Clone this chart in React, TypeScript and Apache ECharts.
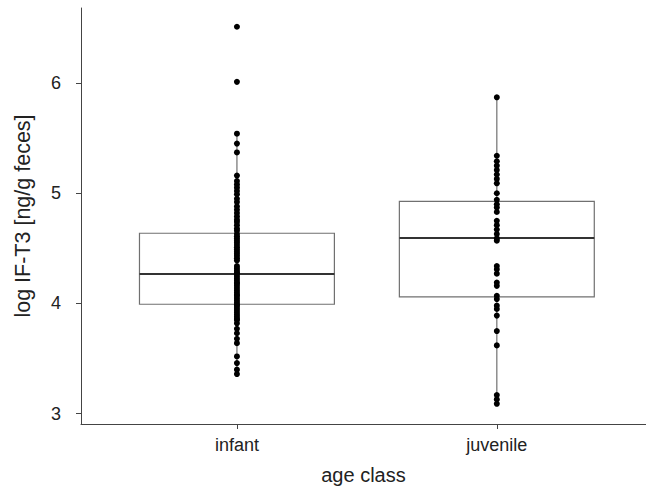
import React, { useEffect, useRef } from "react";
import * as echarts from "echarts";

const categories = ["infant", "juvenile"];
const yTicks = [3, 4, 5, 6];

// box statistics: [whiskerLow, Q1, median, Q3, whiskerHigh]
const infantBox = [3.35, 3.993, 4.267, 4.637, 5.54];
const juvenileBox = [3.08, 4.06, 4.595, 4.926, 5.87];

const infantPoints = [
  6.51, 6.01, 5.54, 5.45, 5.37, 5.16, 5.11, 5.08, 5.05, 5.02, 4.99, 4.95, 4.92,
  4.88, 4.85, 4.82, 4.79, 4.76, 4.74, 4.71, 4.68, 4.66, 4.63, 4.61, 4.59, 4.57,
  4.55, 4.53, 4.51, 4.49, 4.47, 4.45, 4.43, 4.41, 4.39, 4.34, 4.32, 4.3, 4.28,
  4.27, 4.25, 4.23, 4.21, 4.19, 4.18, 4.16, 4.14, 4.12, 4.1, 4.08, 4.07, 4.05,
  4.03, 4.01, 3.99, 3.98, 3.96, 3.94, 3.92, 3.9, 3.88, 3.86, 3.85, 3.82, 3.77,
  3.73, 3.68, 3.64, 3.52, 3.46, 3.4, 3.36,
];

const juvenilePoints = [
  5.87, 5.34, 5.29, 5.25, 5.21, 5.17, 5.13, 5.09, 5.0, 4.94, 4.9, 4.87, 4.83,
  4.75, 4.71, 4.67, 4.63, 4.59, 4.57, 4.34, 4.31, 4.27, 4.19, 4.16, 4.07, 4.04,
  3.98, 3.95, 3.89, 3.75, 3.62, 3.17, 3.13, 3.09,
];

export default function App() {
  const ref = useRef<HTMLDivElement>(null);
  useEffect(() => {
    if (!ref.current) return;
    const chart = echarts.init(ref.current, null, { renderer: "svg" });
    const boxes = [
      [1, ...infantBox],
      [2, ...juvenileBox],
    ];
    const font = "Liberation Sans, Arial, sans-serif";
    chart.setOption({
      animation: false,
      backgroundColor: "#ffffff",
      grid: { left: 81, right: 0, top: 8, bottom: 64 },
      xAxis: {
        type: "value",
        min: 0.4,
        max: 2.574,
        name: "age class",
        nameLocation: "middle",
        nameGap: 41,
        nameTextStyle: { fontFamily: font, fontSize: 20, color: "#222" },
        splitLine: { show: false },
        axisLine: { lineStyle: { color: "#444", width: 1 } },
        axisTick: { customValues: [1, 2], length: 5, lineStyle: { color: "#444" } },
        axisLabel: {
          customValues: [1, 2],
          formatter: (v: number) => categories[Math.round(v) - 1] ?? "",
          fontFamily: font,
          fontSize: 18,
          color: "#222",
          margin: 12,
        },
      },
      yAxis: {
        type: "value",
        min: 2.907,
        max: 6.68,
        name: "log IF-T3 [ng/g feces]",
        nameLocation: "middle",
        nameGap: 47,
        nameTextStyle: { fontFamily: font, fontSize: 21.5, color: "#222" },
        splitLine: { show: false },
        axisLine: { show: true, lineStyle: { color: "#444", width: 1 } },
        axisTick: { show: true, customValues: yTicks, length: 5, lineStyle: { color: "#444" } },
        axisLabel: {
          customValues: yTicks,
          formatter: (v: number) => String(Math.round(v)),
          fontFamily: font,
          fontSize: 18,
          color: "#222",
          margin: 20,
        },
      },
      series: [
        {
          type: "custom",
          data: boxes,
          z: 1,
          renderItem: (params: any, api: any) => {
            const x = api.value(0);
            const lo = api.coord([x, api.value(1)]);
            const q1 = api.coord([x, api.value(2)]);
            const med = api.coord([x, api.value(3)]);
            const q3 = api.coord([x, api.value(4)]);
            const hi = api.coord([x, api.value(5)]);
            const w = api.size([0.75, 0])[0];
            const gray = { stroke: "#707070", lineWidth: 1.2 };
            return {
              type: "group",
              children: [
                { type: "line", shape: { x1: lo[0], y1: lo[1], x2: q1[0], y2: q1[1] }, style: gray },
                { type: "line", shape: { x1: q3[0], y1: q3[1], x2: hi[0], y2: hi[1] }, style: gray },
                {
                  type: "rect",
                  shape: { x: q3[0] - w / 2, y: q3[1], width: w, height: q1[1] - q3[1] },
                  style: { fill: "none", stroke: "#707070", lineWidth: 1.2 },
                },
                {
                  type: "line",
                  shape: { x1: med[0] - w / 2, y1: med[1], x2: med[0] + w / 2, y2: med[1] },
                  style: { stroke: "#333", lineWidth: 2 },
                },
              ],
            };
          },
        },
        {
          type: "scatter",
          z: 3,
          symbolSize: 6,
          itemStyle: { color: "#000", opacity: 1 },
          data: infantPoints.map((v) => [1, v]),
        },
        {
          type: "scatter",
          z: 3,
          symbolSize: 6,
          itemStyle: { color: "#000", opacity: 1 },
          data: juvenilePoints.map((v) => [2, v]),
        },
      ],
    });
    return () => chart.dispose();
  }, []);
  return (
    <div
      ref={ref}
      style={{ position: "fixed", left: 0, top: 0, width: 646, height: 490 }}
    />
  );
}
